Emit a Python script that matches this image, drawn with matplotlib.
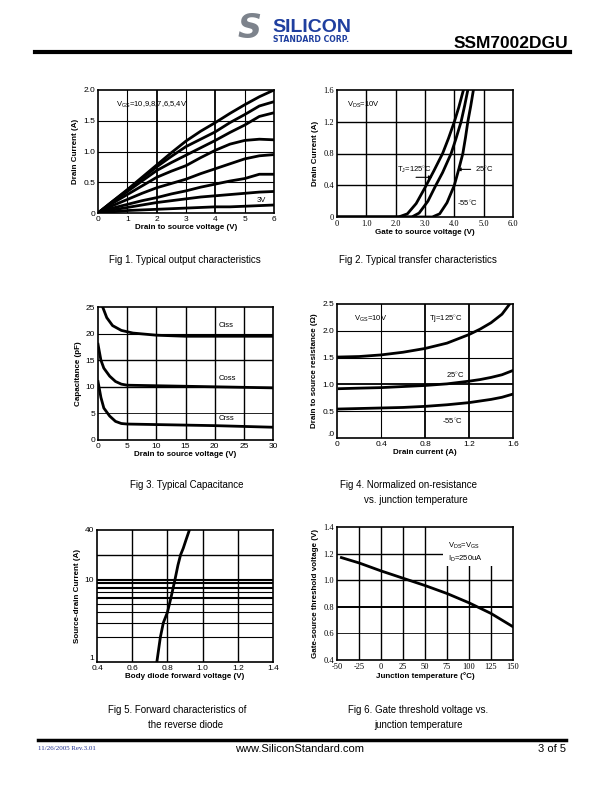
import matplotlib
matplotlib.use("Agg")
import matplotlib.pyplot as plt
import matplotlib.patches as patches

plt.rcParams['font.family'] = ['Liberation Sans', 'DejaVu Sans']
plt.rcParams['mathtext.fontset'] = 'custom'
plt.rcParams['mathtext.rm'] = 'Liberation Sans'
plt.rcParams['mathtext.it'] = 'Liberation Sans'
plt.rcParams['axes.unicode_minus'] = False

# Fig 1 - output characteristics
vds1 = [0, 0.5, 1, 1.5, 2, 2.5, 3, 3.5, 4, 4.5, 5, 5.5, 6]
id_10v = [0, 0.19, 0.38, 0.58, 0.78, 0.98, 1.17, 1.33, 1.47, 1.62, 1.76, 1.89, 2.0]
id_9v = [0, 0.19, 0.37, 0.56, 0.75, 0.92, 1.08, 1.20, 1.32, 1.47, 1.60, 1.74, 1.81]
id_8v = [0, 0.18, 0.35, 0.52, 0.69, 0.82, 0.94, 1.06, 1.18, 1.31, 1.43, 1.57, 1.63]
id_7v = [0, 0.16, 0.30, 0.44, 0.58, 0.68, 0.77, 0.90, 1.02, 1.12, 1.18, 1.20, 1.19]
id_6v = [0, 0.12, 0.22, 0.32, 0.41, 0.48, 0.55, 0.64, 0.72, 0.80, 0.88, 0.93, 0.95]
id_5v = [0, 0.08, 0.14, 0.20, 0.25, 0.31, 0.36, 0.42, 0.47, 0.52, 0.56, 0.63, 0.63]
id_4v = [0, 0.05, 0.09, 0.13, 0.17, 0.20, 0.23, 0.26, 0.28, 0.30, 0.32, 0.34, 0.35]
id_3v = [0, 0.02, 0.04, 0.05, 0.06, 0.07, 0.08, 0.09, 0.10, 0.10, 0.11, 0.12, 0.13]

# Fig 2 - transfer characteristics
vgs_125 = [0, 2.1, 2.4, 2.7, 3.0, 3.3, 3.6, 3.8, 4.0, 4.15, 4.31]
id_125 = [0, 0, 0.04, 0.17, 0.37, 0.58, 0.80, 0.99, 1.2, 1.38, 1.6]
vgs_25 = [0, 2.55, 2.8, 3.1, 3.37, 3.6, 3.89, 4.05, 4.23, 4.35, 4.46]
id_25 = [0, 0, 0.05, 0.2, 0.4, 0.56, 0.8, 0.98, 1.2, 1.4, 1.6]
vgs_m55 = [0, 3.25, 3.5, 3.75, 4.0, 4.15, 4.29, 4.38, 4.46, 4.56, 4.65]
id_m55 = [0, 0, 0.04, 0.18, 0.4, 0.6, 0.8, 1.0, 1.2, 1.4, 1.6]

# Fig 3 - capacitance
vds_ciss = [0.8, 1.5, 2.5, 4, 6, 10, 15, 20, 30]
ciss = [25, 23, 21.5, 20.6, 20.1, 19.7, 19.5, 19.5, 19.5]
vds_coss = [0, 0.5, 1, 2, 3, 4, 5, 10, 20, 30]
coss = [18, 15, 13.5, 12, 11, 10.5, 10.3, 10.2, 10.0, 9.8]
vds_crss = [0, 0.5, 1, 2, 3, 4, 5, 10, 20, 30]
crss = [11, 8, 6, 4.5, 3.5, 3.1, 3.0, 2.9, 2.7, 2.4]

# Fig 4 - on-resistance
id4 = [0, 0.2, 0.4, 0.6, 0.8, 1.0, 1.2, 1.3, 1.4, 1.5, 1.57]
rds_125 = [1.51, 1.52, 1.55, 1.60, 1.67, 1.77, 1.93, 2.03, 2.15, 2.31, 2.5]
id4b = [0.02, 0.2, 0.4, 0.6, 0.8, 1.0, 1.2, 1.3, 1.4, 1.5, 1.6]
rds_25 = [0.92, 0.93, 0.94, 0.96, 0.98, 1.01, 1.06, 1.09, 1.13, 1.18, 1.26]
id4c = [0, 0.2, 0.4, 0.6, 0.8, 1.0, 1.2, 1.3, 1.4, 1.5, 1.6]
rds_m55 = [0.54, 0.55, 0.56, 0.57, 0.59, 0.62, 0.66, 0.69, 0.72, 0.76, 0.82]

# Fig 5 - body diode
vsd = [0.74, 0.76, 0.777, 0.80, 0.82, 0.843, 0.86, 0.875, 0.89, 0.905, 0.925]
isd = [1, 2, 3, 4, 6, 10, 15, 20, 24, 30, 40]

# Fig 6 - threshold voltage
tj = [-45, -25, 0, 25, 50, 75, 100, 125, 150]
vth = [1.17, 1.13, 1.07, 1.015, 0.96, 0.90, 0.83, 0.75, 0.65]

W, H = 612, 792
fig = plt.figure(figsize=(6.12, 7.92), dpi=100)


def add_ax(x0, y0, x1, y1):
    return fig.add_axes([x0 / W, 1 - y1 / H, (x1 - x0) / W, (y1 - y0) / H])


def setup(ax, xlim, ylim, xticks, yticks, xlabel, ylabel, xtl=None, ytl=None, tfont='Liberation Sans'):
    ax.set_xlim(xlim)
    ax.set_ylim(ylim)
    ax.set_xticks(xticks)
    ax.set_yticks(yticks)
    if xtl is not None:
        ax.set_xticklabels(xtl)
    if ytl is not None:
        ax.set_yticklabels(ytl)
    ax.tick_params(length=0, pad=2, labelsize=6)
    for lab in ax.get_xticklabels() + ax.get_yticklabels():
        lab.set_family(tfont)
    ax.set_xlabel(xlabel, fontsize=5.8, fontweight='bold', labelpad=1)
    ax.set_ylabel(ylabel, fontsize=5.8, fontweight='bold', labelpad=3)
    for s in ax.spines.values():
        s.set_linewidth(1.2)


def grid(ax, xs, ys):
    for v, lw in xs:
        ax.axvline(v, color='black', lw=lw, zorder=1)
    for v, lw in ys:
        ax.axhline(v, color='black', lw=lw, zorder=1)


CW = 2.0

# ---- Fig 1
ax1 = add_ax(98, 90, 274, 213)
grid(ax1, [(1, 0.8), (2, 1.3), (3, 0.8), (4, 1.3), (5, 0.8)], [(0.5, 0.8), (1.0, 0.8), (1.5, 0.8)])
for c in [id_10v, id_9v, id_8v, id_7v, id_6v, id_5v, id_4v, id_3v]:
    ax1.plot(vds1, c, color='black', lw=CW, zorder=3)
ax1.text(0.6, 1.75, r'V$_{\mathrm{GS}}$=10,9,8,7,6,5,4V', fontsize=5.5, va='center')
ax1.text(5.4, 0.2, '3V', fontsize=5.5, va='center')
setup(ax1, (0, 6), (0, 2.0), range(7), [0, 0.5, 1.0, 1.5, 2.0], 'Drain to source voltage (V)',
      'Drain Current (A)', ytl=['0', '0.5', '1.0', '1.5', '2.0'])

# ---- Fig 2
ax2 = add_ax(337, 90, 513, 217)
grid(ax2, [(1, 1.0), (2, 1.0), (3, 1.0), (4, 1.0), (5, 1.0)], [(0.4, 1.0), (0.8, 1.0), (1.2, 1.0)])
for x, y in [(vgs_125, id_125), (vgs_25, id_25), (vgs_m55, id_m55)]:
    ax2.plot(x, y, color='black', lw=CW, zorder=3)
ax2.text(0.34, 1.41, r'V$_{\mathrm{DS}}$=10V', fontsize=5.5, va='center')
ax2.text(2.05, 0.6, r'T$_{\mathrm{J}}$=125$^{\circ}$C', fontsize=5.5, va='center')
ax2.annotate('', xy=(3.35, 0.5), xytext=(2.6, 0.5),
             arrowprops=dict(arrowstyle='-|>', color='black', lw=0.8, mutation_scale=5))
ax2.annotate('', xy=(4.0, 0.6), xytext=(4.65, 0.6),
             arrowprops=dict(arrowstyle='-|>', color='black', lw=0.8, mutation_scale=5))
ax2.text(4.7, 0.6, r'25$^{\circ}$C', fontsize=5.5, va='center')
ax2.text(4.1, 0.17, r'-55$^{\circ}$C', fontsize=5.5, va='center')
setup(ax2, (0, 6), (0, 1.6), range(7), [0, 0.4, 0.8, 1.2, 1.6], 'Gate to source voltage (V)',
      'Drain Current (A)', xtl=['0', '1.0', '2.0', '3.0', '4.0', '5.0', '6.0'],
      ytl=['0', '0.4', '0.8', '1.2', '1.6'], tfont='Liberation Serif')

# ---- Fig 3
ax3 = add_ax(98, 307, 273, 440)
grid(ax3, [(5, 1.0), (10, 1.0), (15, 1.0), (20, 1.0), (25, 1.0)],
     [(5, 0.6), (10, 1.0), (15, 1.0), (20, 0.8)])
ax3.plot(vds_ciss, ciss, color='black', lw=CW, zorder=3)
ax3.plot(vds_coss, coss, color='black', lw=CW, zorder=3)
ax3.plot(vds_crss, crss, color='black', lw=CW, zorder=3)
ax3.text(20.6, 21.6, 'Ciss', fontsize=5.5, va='center')
ax3.text(20.6, 11.6, 'Coss', fontsize=5.5, va='center')
ax3.text(20.6, 4.1, 'Crss', fontsize=5.5, va='center')
setup(ax3, (0, 30), (0, 25), range(0, 31, 5), range(0, 26, 5), 'Drain to source voltage (V)',
      'Capacitance (pF)')

# ---- Fig 4
ax4 = add_ax(337, 304, 513, 438)
grid(ax4, [(0.4, 0.8), (0.8, 1.3), (1.2, 1.3)], [(0.5, 0.8), (1.0, 1.3), (1.5, 0.8), (2.0, 0.8)])
ax4.plot(id4, rds_125, color='black', lw=CW, zorder=3)
ax4.plot(id4b, rds_25, color='black', lw=CW, zorder=3)
ax4.plot(id4c, rds_m55, color='black', lw=CW, zorder=3)
ax4.text(0.15, 2.22, r'V$_{\mathrm{GS}}$=10V', fontsize=5.5, va='center')
ax4.text(0.84, 2.22, r'Tj=125$^{\circ}$C', fontsize=5.5, va='center')
ax4.text(0.99, 1.18, r'25$^{\circ}$C', fontsize=5.5, va='center')
ax4.text(0.95, 0.31, r'-55$^{\circ}$C', fontsize=5.5, va='center')
setup(ax4, (0, 1.6), (0, 2.5), [0, 0.4, 0.8, 1.2, 1.6], [0, 0.5, 1.0, 1.5, 2.0, 2.5],
      'Drain current (A)', 'Drain to source resistance (\u03a9)',
      xtl=['0', '0.4', '0.8', '1.2', '1.6'],
      ytl=['.0', '0.5', '1.0', '1.5', '2.0', '2.5'])
ax4.get_yticklabels()[0].set_va('bottom')

# ---- Fig 5
ax5 = add_ax(97, 530, 273, 662)
ax5.set_yscale('log')
grid(ax5, [(0.6, 1.0), (0.8, 1.0), (1.0, 1.0), (1.2, 1.0)],
     [(2, 0.8), (3, 0.8), (4, 0.8), (5, 0.8), (6, 1.5), (7, 0.8), (8, 1.5), (9, 1.5),
      (10, 1.5), (20, 1.0)])
ax5.plot(vsd, isd, color='black', lw=CW, zorder=3)
setup(ax5, (0.4, 1.4), (1, 40), [0.4, 0.6, 0.8, 1.0, 1.2, 1.4], [1, 10, 40],
      'Body diode forward voltage (V)', 'Source-drain Current (A)',
      xtl=['0.4', '0.6', '0.8', '1.0', '1.2', '1.4'], ytl=['1', '10', '40'])
ax5.minorticks_off()
ax5.get_yticklabels()[0].set_va('bottom')

# ---- Fig 6
ax6 = add_ax(337, 527, 513, 660)
grid(ax6, [(v, 1.0) for v in [-25, 0, 25, 50, 75, 100, 125]],
     [(0.6, 0.6), (0.8, 1.4), (1.0, 1.0), (1.2, 1.0)])
ax6.add_patch(patches.Rectangle((70, 1.11), 80, 0.29, facecolor='white', edgecolor='none', zorder=2))
ax6.plot(tj, vth, color='black', lw=CW, zorder=3)
ax6.text(76, 1.26, r'V$_{\mathrm{DS}}$=V$_{\mathrm{GS}}$', fontsize=5.5, va='center', zorder=4)
ax6.text(76, 1.16, r'I$_{\mathrm{D}}$=250uA', fontsize=5.5, va='center', zorder=4)
setup(ax6, (-50, 150), (0.4, 1.4), range(-50, 151, 25), [0.4, 0.6, 0.8, 1.0, 1.2, 1.4],
      'Junction temperature (\u00b0C)', 'Gate-source threshold voltage (V)',
      ytl=['0.4', '0.6', '0.8', '1.0', '1.2', '1.4'], tfont='Liberation Serif')


# ---- captions
def ftext(x, y, s, **kw):
    fig.text(x / W, 1 - y / H, s, **kw)


cap = dict(fontsize=7, ha='center', va='center')
ftext(185, 260, 'Fig 1. Typical output characteristics', **cap)
ftext(418, 260, 'Fig 2. Typical transfer characteristics', **cap)
ftext(187, 485, 'Fig 3. Typical Capacitance', **cap)
ftext(409, 485, 'Fig 4. Normalized on-resistance', **cap)
ftext(416, 500, 'vs. junction temperature', **cap)
ftext(177, 710, 'Fig 5. Forward characteristics of', **cap)
ftext(186, 725, 'the reverse diode', **cap)
ftext(418, 710, 'Fig 6. Gate threshold voltage vs.', **cap)
ftext(419, 725, 'junction temperature', **cap)

# ---- header logo
ftext(249, 29, 'S', fontsize=24, fontweight='bold', style='italic', family='DejaVu Sans',
      color='#7d838c', ha='center', va='center')
ftext(272, 32, 'SILICON', fontsize=14, fontweight='bold', family='Liberation Sans',
      color='#1f3f9f', va='baseline')
ftext(273, 42, 'STANDARD CORP.', fontsize=5.6, fontweight='bold', family='DejaVu Sans',
      color='#1f3f9f', va='baseline')
ftext(568, 43, 'SSM7002DGU', fontsize=12.5, fontweight='bold', ha='right', va='center')
fig.add_artist(plt.Line2D([35 / W, 570 / W], [1 - 52 / H, 1 - 52 / H], color='black', lw=3))

# ---- footer
fig.add_artist(plt.Line2D([38 / W, 566 / W], [1 - 740 / H, 1 - 740 / H], color='black', lw=2.5))
ftext(38, 749, '11/26/2005 Rev.3.01', fontsize=5, family='Liberation Serif', color='#1f2f8f', va='center')
ftext(300, 749, 'www.SiliconStandard.com', fontsize=8, ha='center', va='center')
ftext(566, 749, '3 of 5', fontsize=8, ha='right', va='center')

fig.savefig('out.png', dpi=100)
